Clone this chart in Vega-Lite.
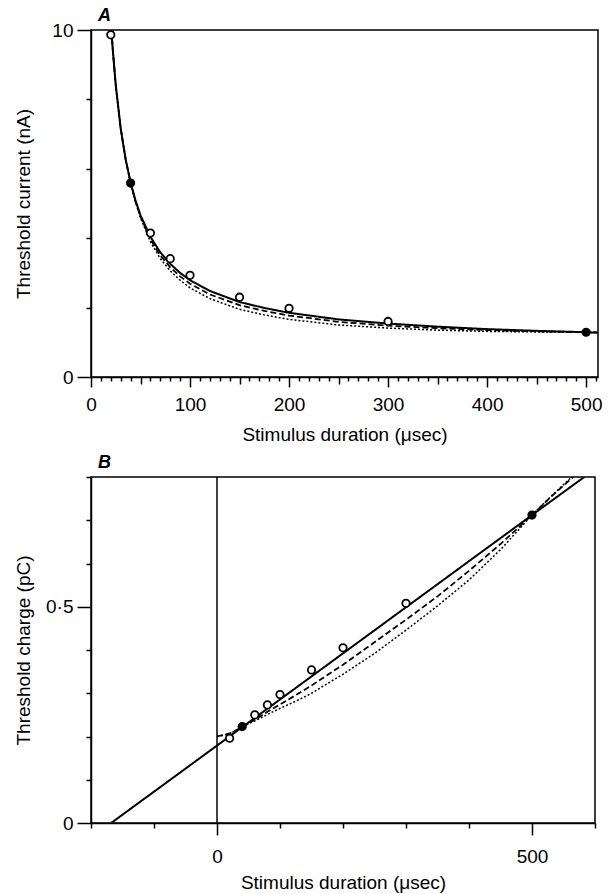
{
  "$schema": "https://vega.github.io/schema/vega-lite/v6.json",
  "background": "white",
  "padding": {"left": 13, "top": 6, "right": 4, "bottom": 0},
  "spacing": 8,
  "config": {
    "font": "Liberation Sans",
    "view": {"stroke": "black", "strokeWidth": 1.5},
    "axis": {
      "grid": false,
      "domainColor": "black",
      "domainWidth": 1.5,
      "tickColor": "black",
      "tickWidth": 1.5,
      "labelColor": "black",
      "titleColor": "black",
      "labelFont": "Liberation Sans",
      "titleFont": "Liberation Sans",
      "labelFontSize": 19,
      "titleFontSize": 19,
      "titleFontWeight": "normal",
      "labelOverlap": false,
      "labelFlush": false
    },
    "title": {"font": "Liberation Sans", "fontSize": 18, "fontStyle": "italic", "fontWeight": "bold", "color": "black", "anchor": "start", "frame": "group"}
  },
  "datasets": {
    "curvesA": [
      {"curve": "solid", "t": 20.6, "v": 10.0}, {"curve": "solid", "t": 22, "v": 9.43}, {"curve": "solid", "t": 25, "v": 8.41}, {"curve": "solid", "t": 30, "v": 7.16}, {"curve": "solid", "t": 35, "v": 6.27}, {"curve": "solid", "t": 40, "v": 5.60}, {"curve": "solid", "t": 45, "v": 5.08}, {"curve": "solid", "t": 50, "v": 4.66}, {"curve": "solid", "t": 60, "v": 4.04}, {"curve": "solid", "t": 70, "v": 3.59}, {"curve": "solid", "t": 80, "v": 3.26}, {"curve": "solid", "t": 90, "v": 3.00}, {"curve": "solid", "t": 100, "v": 2.79}, {"curve": "solid", "t": 120, "v": 2.48}, {"curve": "solid", "t": 150, "v": 2.16}, {"curve": "solid", "t": 175, "v": 1.99}, {"curve": "solid", "t": 200, "v": 1.85}, {"curve": "solid", "t": 250, "v": 1.66}, {"curve": "solid", "t": 300, "v": 1.54}, {"curve": "solid", "t": 350, "v": 1.45}, {"curve": "solid", "t": 400, "v": 1.38}, {"curve": "solid", "t": 450, "v": 1.33}, {"curve": "solid", "t": 500, "v": 1.29}, {"curve": "solid", "t": 512, "v": 1.28},
      {"curve": "dashed", "t": 20.6, "v": 10.0}, {"curve": "dashed", "t": 22, "v": 9.43}, {"curve": "dashed", "t": 25, "v": 8.41}, {"curve": "dashed", "t": 30, "v": 7.16}, {"curve": "dashed", "t": 35, "v": 6.27}, {"curve": "dashed", "t": 40, "v": 5.60}, {"curve": "dashed", "t": 45, "v": 5.06}, {"curve": "dashed", "t": 50, "v": 4.62}, {"curve": "dashed", "t": 60, "v": 3.97}, {"curve": "dashed", "t": 70, "v": 3.50}, {"curve": "dashed", "t": 80, "v": 3.16}, {"curve": "dashed", "t": 90, "v": 2.90}, {"curve": "dashed", "t": 100, "v": 2.69}, {"curve": "dashed", "t": 120, "v": 2.38}, {"curve": "dashed", "t": 150, "v": 2.07}, {"curve": "dashed", "t": 175, "v": 1.905}, {"curve": "dashed", "t": 200, "v": 1.77}, {"curve": "dashed", "t": 250, "v": 1.59}, {"curve": "dashed", "t": 300, "v": 1.48}, {"curve": "dashed", "t": 350, "v": 1.405}, {"curve": "dashed", "t": 400, "v": 1.35}, {"curve": "dashed", "t": 450, "v": 1.315}, {"curve": "dashed", "t": 500, "v": 1.29}, {"curve": "dashed", "t": 512, "v": 1.28},
      {"curve": "dotted", "t": 20.6, "v": 10.0}, {"curve": "dotted", "t": 22, "v": 9.43}, {"curve": "dotted", "t": 25, "v": 8.41}, {"curve": "dotted", "t": 30, "v": 7.16}, {"curve": "dotted", "t": 35, "v": 6.27}, {"curve": "dotted", "t": 40, "v": 5.60}, {"curve": "dotted", "t": 45, "v": 5.04}, {"curve": "dotted", "t": 50, "v": 4.58}, {"curve": "dotted", "t": 60, "v": 3.90}, {"curve": "dotted", "t": 70, "v": 3.41}, {"curve": "dotted", "t": 80, "v": 3.06}, {"curve": "dotted", "t": 90, "v": 2.79}, {"curve": "dotted", "t": 100, "v": 2.57}, {"curve": "dotted", "t": 120, "v": 2.26}, {"curve": "dotted", "t": 150, "v": 1.95}, {"curve": "dotted", "t": 175, "v": 1.79}, {"curve": "dotted", "t": 200, "v": 1.66}, {"curve": "dotted", "t": 250, "v": 1.50}, {"curve": "dotted", "t": 300, "v": 1.41}, {"curve": "dotted", "t": 350, "v": 1.35}, {"curve": "dotted", "t": 400, "v": 1.315}, {"curve": "dotted", "t": 450, "v": 1.30}, {"curve": "dotted", "t": 500, "v": 1.29}, {"curve": "dotted", "t": 512, "v": 1.28}
    ],
    "pointsA": [
      {"kind": "open", "t": 20, "v": 9.86}, {"kind": "filled", "t": 40, "v": 5.59}, {"kind": "open", "t": 60, "v": 4.15}, {"kind": "open", "t": 80, "v": 3.41}, {"kind": "open", "t": 100, "v": 2.93}, {"kind": "open", "t": 150, "v": 2.30}, {"kind": "open", "t": 200, "v": 1.98}, {"kind": "open", "t": 300, "v": 1.60}, {"kind": "filled", "t": 500, "v": 1.29}
    ],
    "curvesB": [
      {"curve": "solid", "t": -168, "v": 0}, {"curve": "solid", "t": 0, "v": 0.179}, {"curve": "solid", "t": 500, "v": 0.712}, {"curve": "solid", "t": 583, "v": 0.8},
      {"curve": "dashed", "t": 0, "v": 0.200}, {"curve": "dashed", "t": 20, "v": 0.207}, {"curve": "dashed", "t": 40, "v": 0.222}, {"curve": "dashed", "t": 60, "v": 0.239}, {"curve": "dashed", "t": 80, "v": 0.257}, {"curve": "dashed", "t": 100, "v": 0.274}, {"curve": "dashed", "t": 130, "v": 0.300}, {"curve": "dashed", "t": 150, "v": 0.318}, {"curve": "dashed", "t": 200, "v": 0.366}, {"curve": "dashed", "t": 250, "v": 0.418}, {"curve": "dashed", "t": 300, "v": 0.470}, {"curve": "dashed", "t": 350, "v": 0.524}, {"curve": "dashed", "t": 400, "v": 0.583}, {"curve": "dashed", "t": 450, "v": 0.645}, {"curve": "dashed", "t": 480, "v": 0.685}, {"curve": "dashed", "t": 500, "v": 0.712}, {"curve": "dashed", "t": 530, "v": 0.754}, {"curve": "dashed", "t": 565, "v": 0.80},
      {"curve": "dotted", "t": 0, "v": 0.200}, {"curve": "dotted", "t": 20, "v": 0.206}, {"curve": "dotted", "t": 40, "v": 0.222}, {"curve": "dotted", "t": 60, "v": 0.236}, {"curve": "dotted", "t": 80, "v": 0.251}, {"curve": "dotted", "t": 100, "v": 0.265}, {"curve": "dotted", "t": 130, "v": 0.285}, {"curve": "dotted", "t": 150, "v": 0.300}, {"curve": "dotted", "t": 200, "v": 0.344}, {"curve": "dotted", "t": 250, "v": 0.392}, {"curve": "dotted", "t": 300, "v": 0.446}, {"curve": "dotted", "t": 350, "v": 0.502}, {"curve": "dotted", "t": 400, "v": 0.562}, {"curve": "dotted", "t": 450, "v": 0.632}, {"curve": "dotted", "t": 480, "v": 0.680}, {"curve": "dotted", "t": 500, "v": 0.712}, {"curve": "dotted", "t": 530, "v": 0.755}, {"curve": "dotted", "t": 563, "v": 0.80}
    ],
    "pointsB": [
      {"kind": "open", "t": 20, "v": 0.196}, {"kind": "filled", "t": 40, "v": 0.223}, {"kind": "open", "t": 60, "v": 0.250}, {"kind": "open", "t": 80, "v": 0.273}, {"kind": "open", "t": 100, "v": 0.297}, {"kind": "open", "t": 150, "v": 0.354}, {"kind": "open", "t": 200, "v": 0.405}, {"kind": "open", "t": 300, "v": 0.508}, {"kind": "filled", "t": 500, "v": 0.712}
    ],
    "zeroB": [{"t": 0}]
  },
  "vconcat": [
    {
      "width": 507,
      "height": 347,
      "title": {"text": "A", "dx": 7, "offset": -4},
      "resolve": {"axis": {"x": "independent"}},
      "layer": [
        {
          "data": {"name": "curvesA"},
          "mark": {"type": "line", "color": "black", "clip": true},
          "encoding": {
            "x": {
              "field": "t", "type": "quantitative",
              "scale": {"domain": [0, 512], "nice": false, "zero": false},
              "axis": {
                "orient": "bottom",
                "title": "Stimulus duration (μsec)",
                "values": [0, 100, 200, 300, 400, 500],
                "labelOverlap": false,
                "tickSize": 10,
                "labelPadding": 8,
                "titlePadding": 11
              }
            },
            "y": {
              "field": "v", "type": "quantitative",
              "scale": {"domain": [0, 10], "nice": false},
              "axis": {
                "title": "Threshold current (nA)",
                "values": [0,1,2,3,4,5,6,7,8,9,10],
                "labelExpr": "datum.value === 0 || datum.value === 10 ? datum.label : ''",
                "labelOverlap": false,
                "tickSize": {"condition": {"test": "datum.value === 0 || datum.value === 10", "value": 14}, "value": 5},
                "labelPadding": 4,
                "titlePadding": 18
              }
            },
            "strokeDash": {"field": "curve", "type": "nominal", "scale": {"domain": ["solid", "dashed", "dotted"], "range": [[1, 0], [6, 3], [2, 2]]}, "legend": null},
            "strokeWidth": {"field": "curve", "type": "nominal", "scale": {"domain": ["solid", "dashed", "dotted"], "range": [2, 1.5, 1.3]}, "legend": null}
          }
        },
        {
          "data": {"name": "pointsA"},
          "mark": {"type": "circle", "stroke": "black", "strokeWidth": 1.8, "size": 55, "opacity": 1},
          "encoding": {
            "x": {
              "field": "t", "type": "quantitative",
              "axis": {
                "orient": "bottom",
                "title": null,
                "labels": false,
                "domain": false,
                "values": [10,20,30,40,50,60,70,80,90,110,120,130,140,150,160,170,180,190,210,220,230,240,250,260,270,280,290,310,320,330,340,350,360,370,380,390,410,420,430,440,450,460,470,480,490,510],
                "tickSize": {"condition": {"test": "datum.value % 50 === 0", "value": 7}, "value": 4}
              }
            },
            "y": {"field": "v", "type": "quantitative"},
            "fill": {"field": "kind", "type": "nominal", "scale": {"domain": ["open", "filled"], "range": ["white", "black"]}, "legend": null}
          }
        }
      ]
    },
    {
      "width": 504,
      "height": 346,
      "title": {"text": "B", "dx": 7, "offset": -4},
      "layer": [
        {
          "data": {"name": "zeroB"},
          "mark": {"type": "rule", "color": "black", "strokeWidth": 1.5},
          "encoding": {"x": {"field": "t", "type": "quantitative"}}
        },
        {
          "data": {"name": "curvesB"},
          "mark": {"type": "line", "color": "black", "clip": true},
          "encoding": {
            "x": {
              "field": "t", "type": "quantitative",
              "scale": {"domain": [-200, 600], "nice": false, "zero": false},
              "axis": {
                "title": "Stimulus duration (μsec)",
                "values": [-200,-100,0,100,200,300,400,500,600],
                "labelExpr": "datum.value === 0 || datum.value === 500 ? datum.label : ''",
                "labelOverlap": false,
                "tickSize": {"condition": {"test": "datum.value === 0 || datum.value === 500", "value": 12}, "value": 5},
                "labelPadding": 12,
                "titlePadding": 7
              }
            },
            "y": {
              "field": "v", "type": "quantitative",
              "scale": {"domain": [0, 0.8], "nice": false},
              "axis": {
                "title": "Threshold charge (pC)",
                "values": [0,0.1,0.2,0.3,0.4,0.5,0.6,0.7,0.8],
                "labelExpr": "datum.value === 0 ? '0' : (abs(datum.value - 0.5) < 0.001 ? '0·5' : '')",
                "labelOverlap": false,
                "tickSize": {"condition": {"test": "datum.value === 0 || abs(datum.value - 0.5) < 0.001", "value": 14}, "value": 5},
                "labelPadding": 4,
                "titlePadding": 12
              }
            },
            "strokeDash": {"field": "curve", "type": "nominal", "scale": {"domain": ["solid", "dashed", "dotted"], "range": [[1, 0], [7, 4], [2, 2]]}, "legend": null},
            "strokeWidth": {"field": "curve", "type": "nominal", "scale": {"domain": ["solid", "dashed", "dotted"], "range": [1.8, 1.5, 1.3]}, "legend": null}
          }
        },
        {
          "data": {"name": "pointsB"},
          "mark": {"type": "circle", "stroke": "black", "strokeWidth": 1.8, "size": 55, "opacity": 1},
          "encoding": {
            "x": {"field": "t", "type": "quantitative"},
            "y": {"field": "v", "type": "quantitative"},
            "fill": {"field": "kind", "type": "nominal", "scale": {"domain": ["open", "filled"], "range": ["white", "black"]}, "legend": null}
          }
        }
      ]
    }
  ]
}
